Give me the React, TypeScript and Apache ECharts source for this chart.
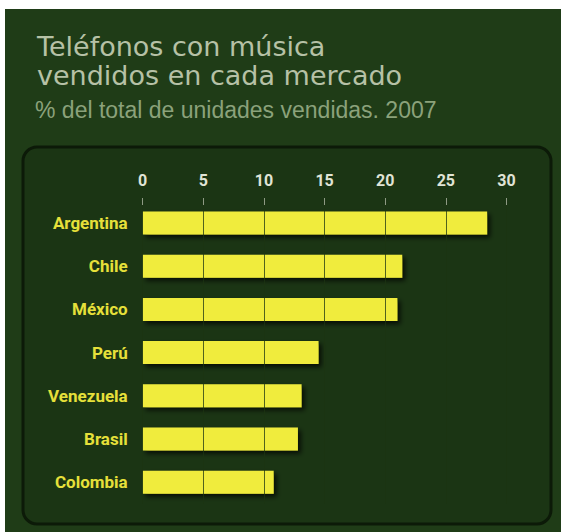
import React, { useEffect, useRef } from "react";
import * as echarts from "echarts";

const categories = ["Argentina", "Chile", "México", "Perú", "Venezuela", "Brasil", "Colombia"];
const values = [28.4, 21.4, 21.0, 14.5, 13.1, 12.8, 10.8];
const axisMin = 0;
const axisMax = 30;
const axisInterval = 5;
const titleLines = ["Teléfonos con música", "vendidos en cada mercado"];
const subtitle = "% del total de unidades vendidas. 2007";

const LABEL_FONT = 'Roboto, "Liberation Sans", sans-serif';

export default function App() {
  const ref = useRef<HTMLDivElement>(null);
  useEffect(() => {
    document.body.style.margin = "0";
    if (!ref.current) return;
    const chart = echarts.init(ref.current, undefined, { renderer: "svg" });
    chart.setOption({
      animation: false,
      backgroundColor: "#ffffff",
      graphic: [
        {
          type: "rect",
          z: -10,
          shape: { x: 5, y: 9, width: 556, height: 523 },
          style: { fill: "#1f3c17" },
        },
        {
          type: "rect",
          z: -9,
          shape: { x: 23, y: 147, width: 528, height: 377, r: 14 },
          style: { fill: "#1b3514", stroke: "#0c1a08", lineWidth: 3 },
        },
        {
          type: "text",
          z: 10,
          x: 37,
          y: 46.5,
          style: {
            text: titleLines[0],
            fill: "#b6c1a6",
            font: '27px "DejaVu Sans", sans-serif',
            verticalAlign: "middle",
          },
        },
        {
          type: "text",
          z: 10,
          x: 37,
          y: 75.8,
          style: {
            text: titleLines[1],
            fill: "#b6c1a6",
            font: '27px "DejaVu Sans", sans-serif',
            verticalAlign: "middle",
          },
        },
        {
          type: "text",
          z: 10,
          x: 35,
          y: 110.3,
          style: {
            text: subtitle,
            fill: "#8ba27b",
            font: '23px "Liberation Sans", Arial, sans-serif',
            verticalAlign: "middle",
          },
        },
      ],
      grid: {
        left: 142.7,
        right: 54.5,
        top: 201.4,
        height: 302.4,
        containLabel: false,
      },
      xAxis: {
        type: "value",
        position: "top",
        min: axisMin,
        max: axisMax,
        interval: axisInterval,
        offset: -3.6,
        z: 5,
        axisLine: { show: false },
        axisTick: { show: true, length: 7, lineStyle: { color: "#8e9a84", width: 1 } },
        axisLabel: {
          color: "#e0e4d6",
          fontFamily: LABEL_FONT,
          fontWeight: "bold",
          fontSize: 16,
          margin: 17,
        },
        splitLine: { show: true, lineStyle: { color: "rgba(28,52,18,0.75)", width: 1 } },
      },
      yAxis: {
        type: "category",
        data: categories,
        inverse: true,
        axisLine: { show: false },
        axisTick: { show: false },
        axisLabel: {
          color: "#e6e03a",
          fontFamily: LABEL_FONT,
          fontWeight: "bold",
          fontSize: 17,
          margin: 15,
        },
      },
      series: [
        {
          type: "bar",
          data: values,
          barWidth: 23,
          itemStyle: {
            color: "#f0ec3c",
            shadowColor: "rgba(0,0,0,0.75)",
            shadowBlur: 5,
            shadowOffsetX: 3,
            shadowOffsetY: 3,
          },
        },
      ],
    });
    return () => chart.dispose();
  }, []);
  return <div ref={ref} style={{ width: 561, height: 532 }} />;
}
